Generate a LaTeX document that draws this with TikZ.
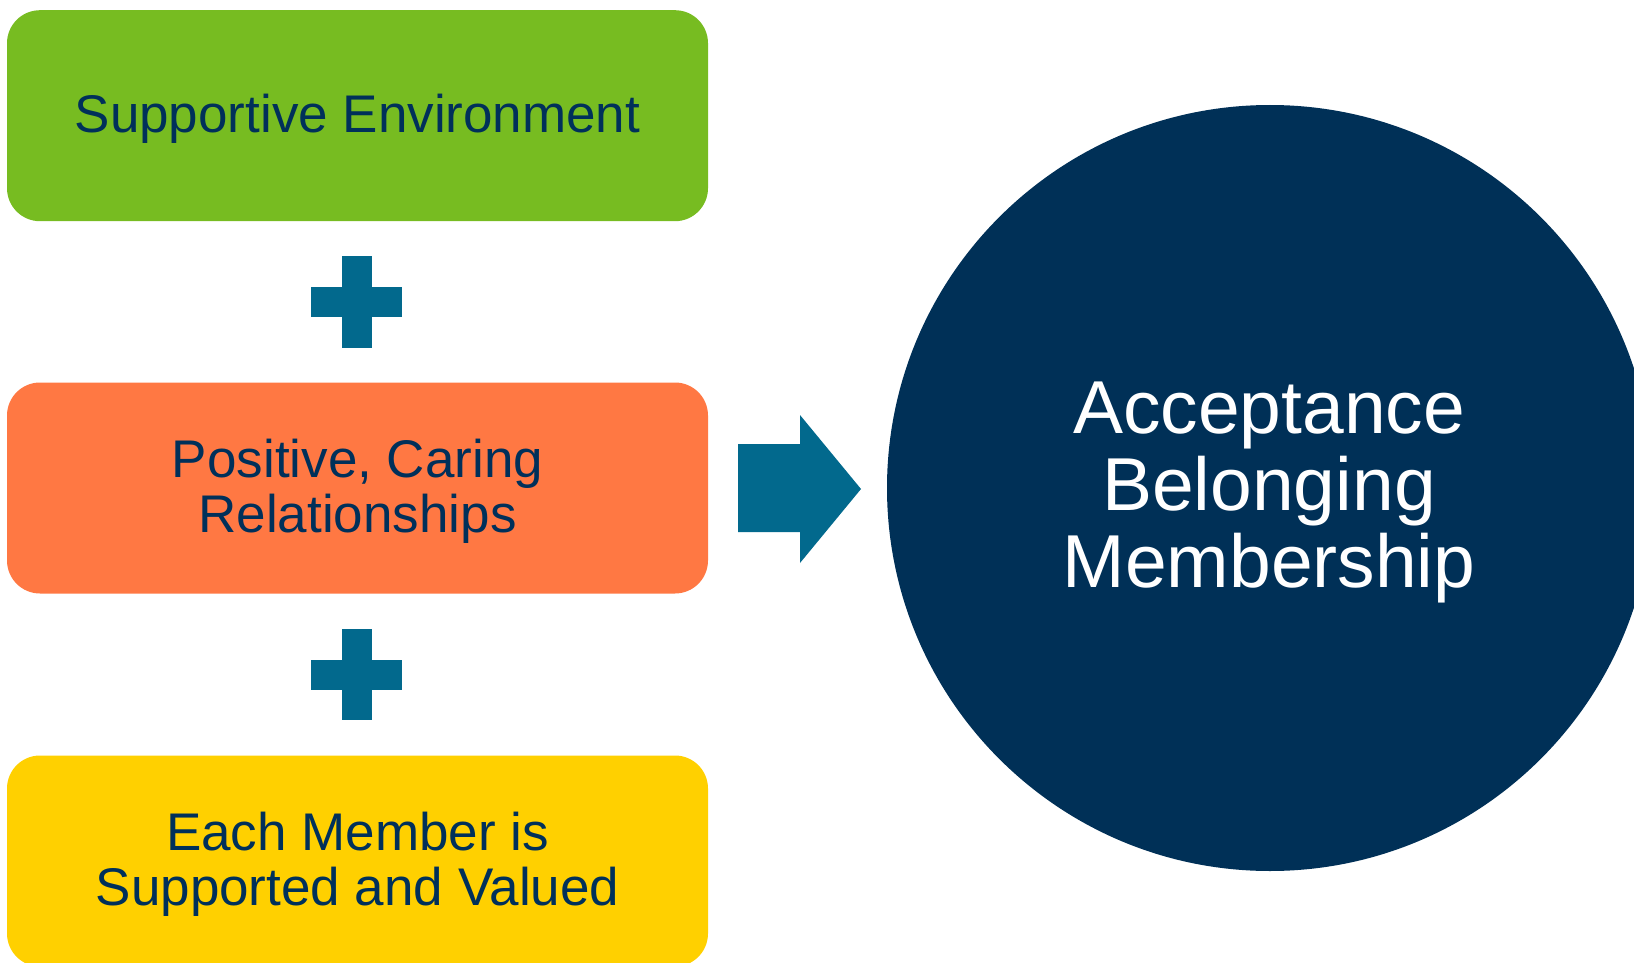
\documentclass[tikz,border=0pt]{standalone}
\usepackage{fontspec}
\setmainfont{Liberation Sans}
\definecolor{cgreen}{HTML}{77BC21}
\definecolor{corange}{HTML}{FF7843}
\definecolor{cyellow}{HTML}{FFD000}
\definecolor{cteal}{HTML}{02698D}
\definecolor{cnavy}{HTML}{003057}
\definecolor{ctext}{HTML}{00305A}
\begin{document}
\begin{tikzpicture}[x=1pt,y=-1pt,
  box/.style={rectangle, rounded corners=33pt, minimum width=701pt, minimum height=211pt,
    inner sep=0pt, fill=#1},
  boxtext/.style={text=ctext, align=center, font=\fontsize{53}{55}\selectfont},
  plusbar/.style={fill=cteal}]
\useasboundingbox (0,0) rectangle (1634,963);
\begin{scope}
\clip (0,0) rectangle (1634,963);
\node[box=cgreen] (env) at (357.5,115.7) {};
\node[boxtext] (envt) at (357.5,119) {Supportive Environment};
\node[box=corange] (rel) at (357.5,488) {};
\node[boxtext] (relt) at (357.5,491) {Positive, Caring\\Relationships};
\node[box=cyellow] (mem) at (357.5,861) {};
\node[boxtext] (memt) at (357.5,864) {Each Member is\\Supported and Valued};
% plus signs
\fill[plusbar] (342,256) rectangle (372,348);
\fill[plusbar] (311,287) rectangle (402,317);
\fill[plusbar] (342,629) rectangle (372,720);
\fill[plusbar] (311,660) rectangle (402,690);
% arrow
\fill[cteal] (738,444) -- (800,444) -- (800,415) -- (861,489) -- (800,563) -- (800,532) -- (738,532) -- cycle;
% circle
\node[circle, fill=cnavy, minimum size=766pt, inner sep=0pt] (res) at (1270,488) {};
\node[text=white, align=center, font=\fontsize{75}{77}\selectfont] (restext) at (1269,492) {Acceptance\\Belonging\\Membership};
\end{scope}
\end{tikzpicture}
\end{document}
